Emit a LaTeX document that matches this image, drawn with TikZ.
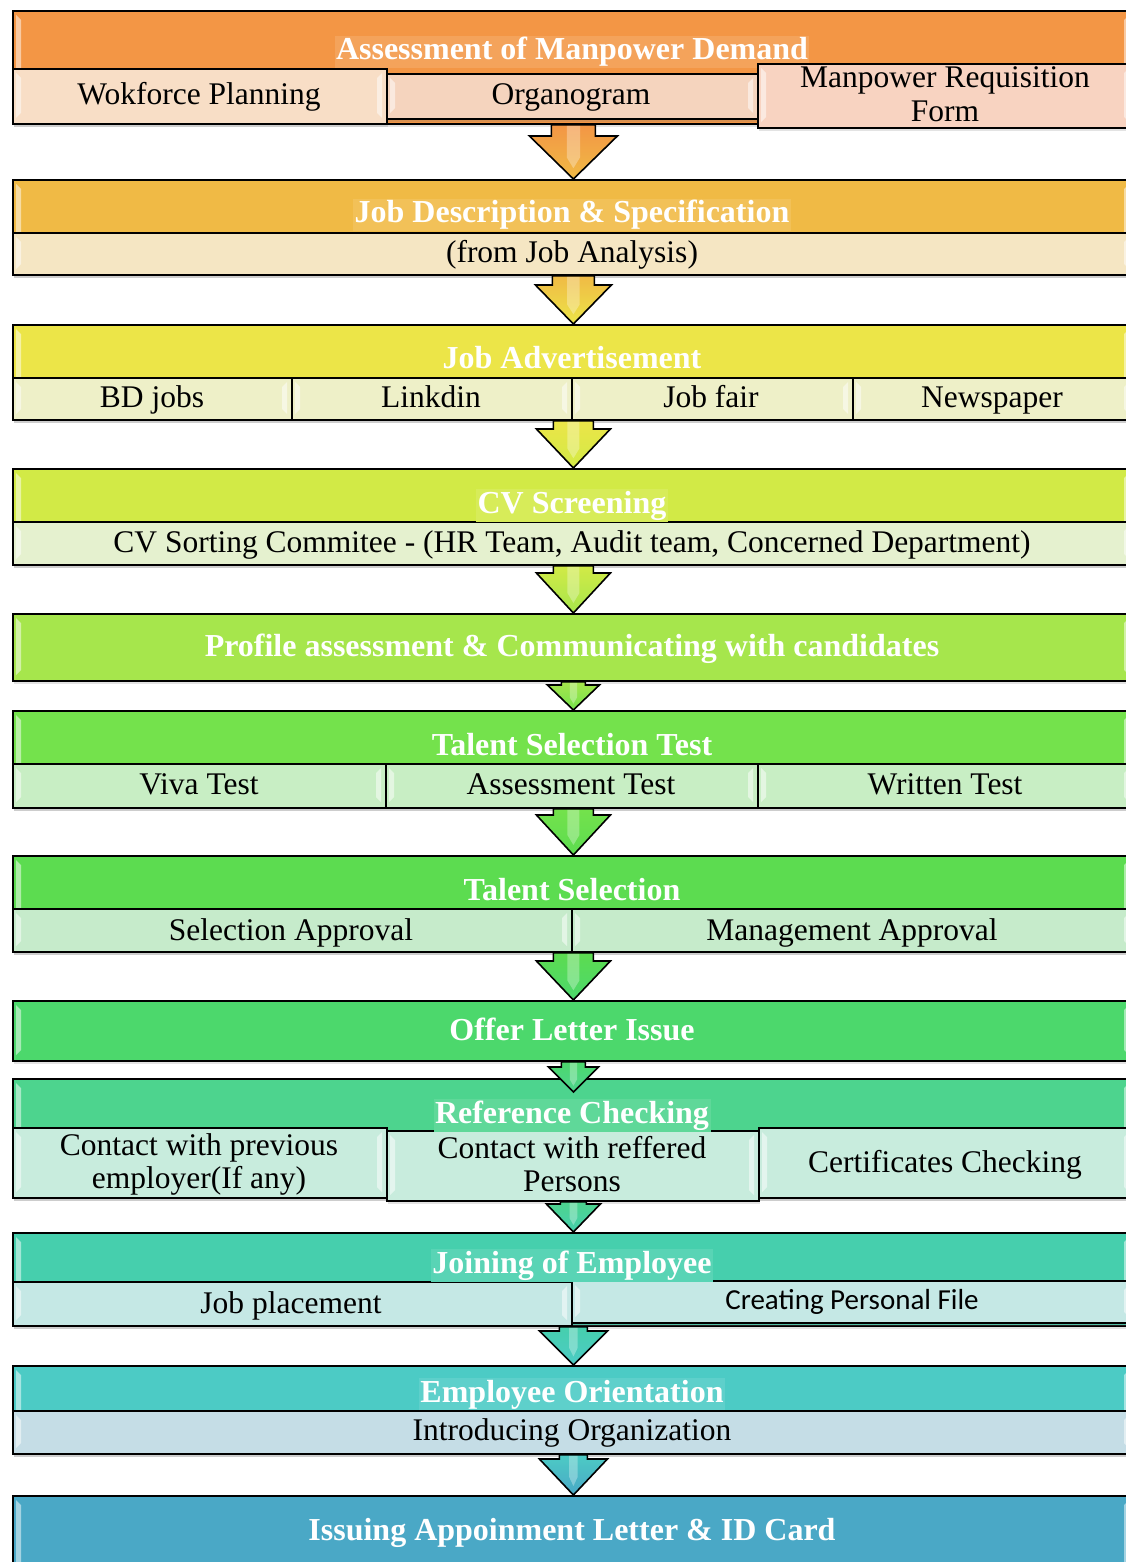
\documentclass[tikz,border=0pt]{standalone}
\usepackage{fontspec}
\setmainfont{Liberation Serif}
\newfontfamily\carlito{Carlito}
\usetikzlibrary{shadows,calc}
\definecolor{h1}{HTML}{F39645}
\definecolor{h2}{HTML}{F0BA45}
\definecolor{h3}{HTML}{ECE548}
\definecolor{h4}{HTML}{D2EA46}
\definecolor{h5}{HTML}{A6E64C}
\definecolor{h6}{HTML}{74E24C}
\definecolor{h7}{HTML}{5CDC50}
\definecolor{h8}{HTML}{4CD86C}
\definecolor{h9}{HTML}{4DD48E}
\definecolor{h10}{HTML}{46CFAD}
\definecolor{h11}{HTML}{4CCBC5}
\definecolor{h12}{HTML}{4AA8C6}
\definecolor{u1a}{HTML}{F8DEC6}
\definecolor{u1b}{HTML}{F5D4BE}
\definecolor{u1c}{HTML}{F8D3C1}
\definecolor{u2}{HTML}{F5E6C3}
\definecolor{u3}{HTML}{EEF0C8}
\definecolor{u4}{HTML}{E5F1CF}
\definecolor{u6}{HTML}{C8EEC4}
\definecolor{u7}{HTML}{C6EBCB}
\definecolor{u9}{HTML}{C8ECDD}
\definecolor{u10}{HTML}{C5E8E5}
\definecolor{u11}{HTML}{C5DDE6}
\tikzset{
  bxs/.style={draw=black, line width=1.8pt, inner sep=0pt, anchor=north west,
    drop shadow={opacity=0.22, shadow xshift=1.5pt, shadow yshift=-3pt}},
  tabst/.style={fill=white, opacity=0.5},
  ttl/.style={font=\bfseries\fontsize{32}{34}\selectfont, text=white, anchor=base, inner sep=1.5pt},
  lbl/.style={font=\fontsize{31.5}{33}\selectfont, text=black, anchor=base, inner sep=0pt},
  arrst/.style={draw=black, line width=1.6pt, line join=miter},
}
% box: style, name, x1, y1, x2, y2
\newcommand\bx[6]{%
  \node[bxs, #1, minimum width={(#5)-(#3)}, minimum height={(#6)-(#4)}] (#2) at (#3,#4) {};
  \fill[tabst] (#3+4,#4+5) -- (#3+9,#4+10) -- (#3+9,#6-10) -- (#3+4,#6-5) -- cycle;
  \fill[tabst] (#5-4,#4+5) -- (#5-9,#4+10) -- (#5-9,#6-10) -- (#5-4,#6-5) -- cycle;
}
% block arrow: from, to, shaft half, head half, head length, top colour, bottom colour
\newcommand\arr[7]{%
  \filldraw[arrst, top color=#6, bottom color=#7] let \p1=(#1), \p2=(#2) in
    (\x2-#3,\y1) -- (\x2-#3,\y2+#5) -- (\x2-#4,\y2+#5) -- (\x2,\y2)
    -- (\x2+#4,\y2+#5) -- (\x2+#3,\y2+#5) -- (\x2+#3,\y1) -- cycle;
  \fill[white, opacity=0.3] let \p1=(#1), \p2=(#2) in
    (\x2-#3*0.3,\y1-1) -- (\x2+#3*0.3,\y1-1) -- (\x2+#3*0.3,\y2+#5*0.5)
    -- (\x2,\y2+#5*0.25) -- (\x2-#3*0.3,\y2+#5*0.5) -- cycle;
}
\begin{document}
\begin{tikzpicture}[x=1pt,y=-1pt]
\useasboundingbox (0,0) rectangle (1126,1562);

% ---- Stage 1
\bx{fill=h1}{g1}{12}{10}{1133}{123}
\node[ttl, fill=h1!88!white] (t1) at (572,60) {Assessment of Manpower Demand};
\bx{fill=u1a}{s1a}{12}{68}{386}{123}
\bx{fill=u1b}{s1b}{386}{73}{757}{118}
\bx{fill=u1c}{s1c}{757}{63}{1133}{127}
\node[lbl] (l1a) at (199,105) {Wokforce Planning};
\node[lbl] (l1b) at (571,105) {Organogram};
\node[lbl] (l1c) at (945,88) {Manpower Requisition};
\node[lbl] (l1d) at (945,122) {Form};

% ---- Stage 2
\bx{fill=h2}{g2}{12}{179}{1133}{274}
\bx{fill=u2}{s2a}{12}{232}{1133}{274}
\node[ttl, fill=h2!90!white] (t2) at (572,223) {Job Description \& Specification};
\node[lbl] (l2a) at (572,262) {(from Job Analysis)};

% ---- Stage 3
\bx{fill=h3}{g3}{12}{324}{1133}{419}
\bx{fill=u3}{s3a}{12}{377}{291}{419}
\bx{fill=u3}{s3b}{291}{377}{571}{419}
\bx{fill=u3}{s3c}{571}{377}{852}{419}
\bx{fill=u3}{s3d}{852}{377}{1133}{419}
\node[ttl] (t3) at (572,368) {Job Advertisement};
\node[lbl] (l3a) at (152,407) {BD jobs};
\node[lbl] (l3b) at (431,407) {Linkdin};
\node[lbl] (l3c) at (711,407) {Job fair};
\node[lbl] (l3d) at (992,407) {Newspaper};

% ---- Stage 4
\bx{fill=h4}{g4}{12}{468}{1133}{564}
\bx{fill=u4}{s4a}{12}{521}{1133}{564}
\node[ttl, fill=h4!90!white] (t4) at (572,513) {CV Screening};
\node[lbl] (l4a) at (572,552) {CV Sorting Commitee - (HR Team, Audit team, Concerned Department)};

% ---- Stage 5
\bx{fill=h5}{g5}{12}{613}{1133}{680}
\node[ttl] (t5) at (572,656) {Profile assessment \& Communicating with candidates};

% ---- Stage 6
\bx{fill=h6}{g6}{12}{710}{1133}{807}
\bx{fill=u6}{s6a}{12}{763}{385}{807}
\bx{fill=u6}{s6b}{385}{763}{757}{807}
\bx{fill=u6}{s6c}{757}{763}{1133}{807}
\node[ttl] (t6) at (572,755) {Talent Selection Test};
\node[lbl] (l6a) at (199,794) {Viva Test};
\node[lbl] (l6b) at (571,794) {Assessment Test};
\node[lbl] (l6c) at (945,794) {Written Test};

% ---- Stage 7
\bx{fill=h7}{g7}{12}{855}{1133}{951}
\bx{fill=u7}{s7a}{12}{908}{571}{951}
\bx{fill=u7}{s7b}{571}{908}{1133}{951}
\node[ttl] (t7) at (572,900) {Talent Selection};
\node[lbl] (l7a) at (291,940) {Selection Approval};
\node[lbl] (l7b) at (852,940) {Management Approval};

% ---- Stage 8
\bx{fill=h8}{g8}{12}{1000}{1133}{1060}
\node[ttl] (t8) at (572,1040) {Offer Letter Issue};

% ---- Stage 9
\bx{fill=h9}{g9}{12}{1078}{1133}{1197}
\bx{fill=u9}{s9a}{12}{1127}{386}{1197}
\bx{fill=u9}{s9b}{386}{1130}{758}{1200}
\bx{fill=u9}{s9c}{758}{1127}{1133}{1197}
\node[ttl, fill=h9!90!white] (t9) at (572,1123) {Reference Checking};
\node[lbl] (l9a) at (199,1155) {Contact with previous};
\node[lbl] (l9b) at (199,1188) {employer(If any)};
\node[lbl] (l9c) at (572,1158) {Contact with reffered};
\node[lbl] (l9d) at (572,1191) {Persons};
\node[lbl] (l9e) at (945,1172) {Certificates Checking};

% ---- Stage 10
\bx{fill=h10}{g10}{12}{1232}{1133}{1325}
\bx{fill=u10}{s10a}{12}{1281}{571}{1325}
\bx{fill=u10}{s10b}{571}{1280}{1133}{1322}
\node[ttl, fill=h10!90!white] (t10) at (572,1273) {Joining of Employee};
\node[lbl] (l10a) at (291,1313) {Job placement};
\node[lbl, font=\carlito\fontsize{29}{31}\selectfont] (l10b) at (852,1309) {Creating Personal File};

% ---- Stage 11
\bx{fill=h11}{g11}{12}{1365}{1133}{1453}
\bx{fill=u11}{s11a}{12}{1410}{1133}{1453}
\node[ttl, fill=h11!90!white] (t11) at (572,1402) {Employee Orientation};
\node[lbl] (l11a) at (572,1440) {Introducing Organization};

% ---- Stage 12
\bx{fill=h12}{g12}{12}{1495}{1133}{1580}
\node[ttl] (t12) at (572,1540) {Issuing Appoinment Letter \& ID Card};

% ---- Arrows
\coordinate (c8) at ($(g9.north)+(0,14)$);
\arr{g1.south}{g2.north}{22}{44}{43}{h1}{h2}
\arr{g2.south}{g3.north}{21}{38}{39}{h2}{h3}
\arr{g3.south}{g4.north}{20}{37}{39}{h3}{h4}
\arr{g4.south}{g5.north}{20}{37}{40}{h4}{h5}
\arr{g5.south}{g6.north}{12}{26}{25}{h5}{h6}
\arr{g6.south}{g7.north}{20}{37}{40}{h6}{h7}
\arr{g7.south}{g8.north}{20}{37}{39}{h7}{h8}
\arr{g8.south}{c8}{12}{25}{25}{h8}{h9}
\arr{s9b.south}{g10.north}{13}{27}{28}{h9}{h10}
\arr{g10.south}{g11.north}{14}{34}{34}{h10}{h11}
\arr{g11.south}{g12.north}{14}{34}{36}{h11}{h12}
\end{tikzpicture}
\end{document}
